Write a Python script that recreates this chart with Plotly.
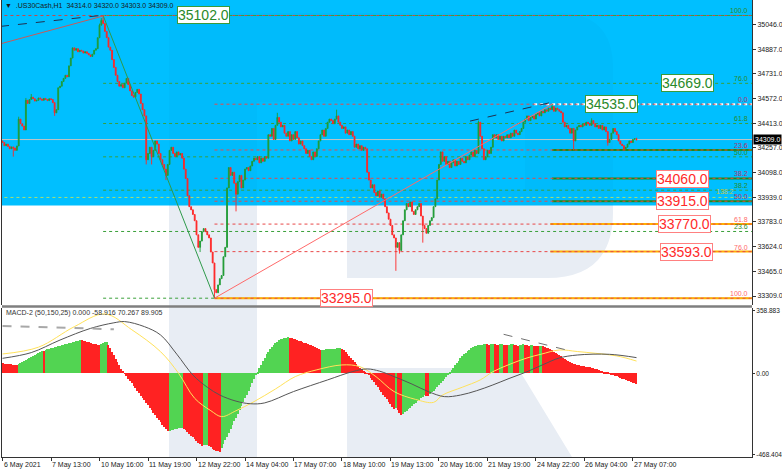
import plotly.graph_objects as go

# ---------------- data ----------------
closes = [
 34290, 34270, 34280, 34265, 34250, 34262, 34255, 34240, 34268, 34440,
 34410, 34395, 34370, 34560,
 34540, 34565, 34580, 34570, 34555, 34560, 34575, 34568, 34560, 34572, 34565, 34558, 34570, 34565, 34545,
 34480, 34500,
 34640, 34650, 34680, 34700, 34720, 34710,
 34780, 34830, 34895,
 34880, 34890, 34870, 34880, 34875, 34862, 34870, 34860, 34850,
 34840, 34855, 34880, 34890,
 34960, 35040, 35070, 35050,
 35000, 34960, 34900, 34880,
 34820, 34770, 34720, 34680,
 34650, 34660, 34640, 34670, 34700,
 34660, 34620, 34590, 34580,
 34610, 34630, 34600,
 34540, 34500, 34460,
 34180,
 34220, 34260, 34200, 34240, 34300, 34280,
 34220, 34180, 34150, 34120, 34080,
 34150, 34240, 34260,
 34220, 34200, 34230, 34210, 34220, 34190,
 34120, 34060,
 33950, 33880,
 33860, 33830, 33790,
 33700, 33620, 33660,
 33720, 33740, 33720, 33700, 33680,
 33590, 33520,
 33350, 33330,
 33380, 33420, 33440,
 33560, 33620,
 34000, 34130,
 34080, 34100, 34030, 33960, 34040, 34080,
 34000, 34050, 34120, 34130, 34110, 34140,
 34170, 34190, 34180, 34200, 34160, 34190, 34170, 34200, 34190,
 34340, 34330,
 34380, 34310, 34400, 34450,
 34420, 34390, 34400,
 34350, 34330, 34360, 34300, 34340, 34310, 34360, 34320, 34280, 34300, 34270,
 34250, 34220, 34240, 34200, 34180, 34230, 34200, 34250,
 34300, 34340, 34370, 34330, 34380,
 34420, 34440, 34430, 34410, 34440, 34460, 34420,
 34400, 34380, 34390, 34350, 34370, 34340, 34360, 34330,
 34260, 34280, 34250, 34270, 34240, 34260, 34250,
 34100, 34050,
 34000, 34020,
 33970, 33950, 33980, 33940, 33960, 33930,
 33880, 33840, 33800,
 33760, 33700, 33680, 33620, 33650,
 33600,
 33700, 33790, 33860,
 33900, 33880, 33910,
 33850, 33830, 33860, 33880, 33900,
 33820, 33760, 33740, 33710,
 33760, 33790, 33810,
 33880, 33930,
 34050, 34150,
 34230, 34170, 34200,
 34150, 34170, 34130, 34160, 34180, 34140, 34170, 34150, 34190, 34170, 34160, 34200, 34180, 34210,
 34230, 34200, 34240, 34220,
 34420,
 34330, 34250, 34180,
 34200, 34240, 34220,
 34260, 34340,
 34320, 34340, 34310, 34330, 34300, 34330, 34320, 34340, 34320,
 34350, 34330, 34370, 34350, 34340, 34360, 34380,
 34420, 34440,
 34460, 34430, 34450, 34460, 34440, 34470,
 34480, 34460, 34490, 34480, 34500, 34490, 34510,
 34500, 34520, 34490, 34510,
 34500, 34490, 34480,
 34420, 34390,
 34400, 34380, 34350, 34380, 34300, 34370, 34390,
 34400, 34390, 34410, 34400, 34420, 34410, 34400, 34430,
 34410, 34390, 34400, 34380, 34400, 34370, 34390, 34360,
 34290, 34310,
 34350, 34380, 34360, 34340,
 34300, 34280, 34270,
 34250, 34260, 34280,
 34300, 34290, 34310, 34314, 34309,
]
first_open = 34300
high_marks = {9: 34455, 13: 34575, 16: 34600, 54: 35050, 55: 35085, 56: 35102,
              153: 34480, 186: 34500, 265: 34430, 306: 34535, 328: 34445, 353: 34320}
low_marks = {6: 34200, 29: 34460, 80: 34150, 83: 34150, 91: 34050, 110: 33590,
             118: 33295, 130: 33850, 219: 33470, 221: 33580, 234: 33650,
             318: 34240, 337: 34270, 346: 34240, 353: 34303}

macd_hist = [
 57, 56, 55, 54, 53, 52, 50, 49, 48,
 52, 58, 64, 70, 76, 82, 88, 94, 100, 106, 112, 118, 124, 130, 127,
 134, 137, 140, 143, 146, 149, 152, 155, 158, 161, 164, 167, 170, 173, 176, 179, 182, 185, 188, 191,
 189, 186, 183, 180, 177, 174, 171, 168, 166, 164, 162,
 167, 172, 177, 182,
 165, 145, 125, 105, 85, 65, 45, 27, 12, -2,
 -16, -30, -44, -58, -72, -86, -100, -114, -128, -142, -156, -170, -184, -198, -212, -226, -240, -254, -268, -282, -296, -310, -322, -333,
 -330, -327, -324, -321, -318, -316, -314, -312,
 -318, -328, -338, -348, -358, -368, -378, -388, -398, -408, -416,
 -414, -412, -410,
 -418, -426, -434, -440, -445, -449, -452,
 -430, -408, -386, -364, -342, -320, -298, -276, -254, -232, -210, -188, -166, -144, -122, -100, -78, -56, -34, -12,
 10, 30, 50, 70, 90, 108, 125, 140, 153, 164, 174, 182, 189, 195, 199, 202, 204, 206,
 204, 201, 198, 195, 192, 188, 184, 180, 176, 172, 168, 164, 160, 156, 150, 144, 139, 134,
 135, 136, 137, 138, 139, 140, 141, 142, 143, 144, 145,
 140, 133, 124, 113, 100, 88, 76, 64, 53, 43, 33, 24, 15, 7, -1,
 -12, -25, -38, -52, -66, -80, -94, -108, -122, -136, -150, -164, -178, -192, -205, -200, -212, -228, -240,
 -232, -224, -215, -206, -197, -188, -179, -170, -161, -152, -143, -134, -125, -128, -131, -120, -110, -100, -90, -80, -70, -58, -46, -34, -22, -10,
 4, 18, 32, 46, 60, 73, 86, 98, 109, 119, 128, 136, 143, 149, 154, 158, 161, 163, 165, 166, 167,
 166, 164, 168, 170, 167, 165, 163, 166, 169, 165, 162, 160, 163, 166, 168, 165, 162, 159, 161, 164, 166, 163, 160, 158, 160, 162, 159, 157, 155, 157, 159, 156, 152, 148,
 143, 137, 131, 125, 118, 111, 104, 97, 90, 83, 76, 70, 64, 59, 55, 51, 48,
 46, 44, 42, 40, 38, 36, 34, 31, 28, 25, 22, 19, 16, 13, 10,
 6, 2, -2, -6, -10, -14, -18, -22, -26, -30, -34, -38, -42, -46, -50, -53, -56, -58.916,
]
yellow_bars = [0, 20, 40, 57, 72, 88, 98, 107, 116, 122, 130, 140, 152, 163, 175, 189, 199, 208, 218, 230, 240, 245, 256, 266, 273, 282, 292, 300, 310, 320, 330, 342, 353]
yellow_vals = [111, 150, 268, 341, 250, 124, 0, -144, -215, -249, -215, -163, -90, -19, 20, 48, 38, -20, -105, -150, -167, -125, -80, -38, 9, 50, 88, 110, 134, 125, 115, 100, 70.267]
grey_bars = [0, 16, 32, 49, 62, 68, 79, 88, 97, 106, 114, 121, 130, 138, 146, 162, 181, 195, 203, 210, 218, 228, 237, 246, 255, 264, 273, 282, 292, 301, 310, 320, 338, 353]
grey_vals = [86, 119, 191, 258, 290, 297, 268, 220, 110, -10, -80, -125, -160, -175, -170, -105, -38, 10, 25, 12, -19, -62, -105, -134, -125, -100, -67, -30, 9, 50, 88, 105, 109, 89.905]

time_tick_bars = [0, 27, 54, 81, 108, 135, 162, 189, 216, 243, 270, 297, 324, 351]
time_tick_text = ["6 May 2021", "7 May 13:00", "10 May 16:00", "11 May 19:00", "12 May 22:00",
                  "14 May 04:00", "17 May 07:00", "18 May 10:00", "19 May 13:00", "20 May 16:00",
                  "21 May 19:00", "24 May 22:00", "26 May 04:00", "27 May 07:00"]
price_ticks = [35046, 34887, 34731, 34572, 34413, 34257, 34098, 33939, 33783, 33624, 33465, 33309]
macd_ticks = [358.883, 0.0, -468.404]
macd_tick_text = ["358.883", "0.00", "-468.404"]

swing_high = 35102.0   # bar 56
swing_low = 33295.0    # bar 118
swing_high2 = 34535.0  # bar 306
high_bar, low_bar, high2_bar = 56, 118, 306
fib_ratios_green = [0.236, 0.382, 0.5, 0.618, 0.76, 1.0]
fib_labels_green = ["23.6", "38.2", "50.0", "61.8", "76.0", "100.0"]
fib_ratios_red = [0.0, 0.236, 0.382, 0.5, 0.618, 0.76, 1.0]
fib_labels_red = ["0.0", "23.6", "38.2", "50.0", "61.8", "76.0", "100.0"]
ext_level, ext_label = 33939.0, "138.2"
box_green = [(35102.0, "35102.0", 204), (34669.0, "34669.0", 687), (34535.0, "34535.0", 611)]
box_red = [(34060.0, "34060.0", 682), (33915.0, "33915.0", 682), (33770.0, "33770.0", 684),
           (33593.0, "33593.0", 686), (33295.0, "33295.0", 346)]
thick_green_levels = [34242.0, 34060.0, 33915.0]
thick_orange_levels = [33770.0, 33593.0]
blue_zone_low = 33888.0
last_price = 34309.0
# trend lines: (bar0, price0, bar1, price1)
price_dash_lines = [(-1.4, 35032, 57, 35105), (260.3, 34427, 308.7, 34555)]
price_red_line = (-1.4, 34920, 57, 35102)
macd_dash_grey = (0, 272, 62, 253)
macd_dash_dark = (279, 224, 314, 134)

# ---------------- build ----------------
n = len(closes)
idx = list(range(n))
opens = [first_open] + closes[:-1]
highs, lows = [], []
for i in idx:
    hi = max(opens[i], closes[i]); lo = min(opens[i], closes[i])
    if i in high_marks: hi = max(hi, high_marks[i])
    if i in low_marks: lo = min(lo, low_marks[i])
    highs.append(hi); lows.append(lo)

hist_colors = []
for i, v in enumerate(macd_hist):
    up = i > 0 and v > macd_hist[i - 1]
    hist_colors.append("#52D452" if up else "#FF2222")

X0, X1 = -0.3, -0.3 + 750 / 1.796
Y_TOP, Y_BOT = 35201.0, 33251.5
M_TOP, M_BOT = 375.1, -480.9

def PX(px): return (px - 2) / 750.0
def PY(py): return (457 - py) / 457.0

def pth(cmds):
    out = []
    for c in cmds:
        if isinstance(c, str):
            out.append(c)
        else:
            out.append(f"{PX(c[0]):.5f},{PY(c[1]):.5f}")
    return " ".join(out)

FONT = "Liberation Sans, Arial, sans-serif"
GREEN_T = "#2A8A2A"
RED_T = "#FF2A2A"

fig = go.Figure()
fig.add_trace(go.Candlestick(
    x=idx, open=opens, high=highs, low=lows, close=closes,
    increasing=dict(line=dict(color="#1F9B34", width=0.9), fillcolor="#1F9B34"),
    decreasing=dict(line=dict(color="#FF2626", width=0.9), fillcolor="#FF2626"),
    whiskerwidth=0, hoverinfo="skip", showlegend=False, xaxis="x", yaxis="y"))
fig.add_trace(go.Bar(x=idx, y=macd_hist, marker=dict(color=hist_colors, line=dict(width=0)),
                     width=0.6, xaxis="x2", yaxis="y2", showlegend=False, hoverinfo="skip"))
fig.add_trace(go.Scatter(x=yellow_bars, y=yellow_vals, mode="lines",
                         line=dict(color="#FFE25A", width=1, shape="spline", smoothing=1.0),
                         xaxis="x2", yaxis="y2", showlegend=False, hoverinfo="skip"))
fig.add_trace(go.Scatter(x=grey_bars, y=grey_vals, mode="lines",
                         line=dict(color="#555555", width=1, shape="spline", smoothing=1.0),
                         xaxis="x2", yaxis="y2", showlegend=False, hoverinfo="skip"))

shapes = []
WM = "#E8EDF4"
# watermark (R logo)
logo = pth(["M", (169, 13), "L", (558, 13), "Q", (613, 13), (613, 68), "L", (613, 212),
            "Q", (613, 278), (547, 278), "L", (347, 278), "L", (347, 190), "L", (525, 190),
            "L", (525, 102), "L", (257, 102), "L", (257, 457), "L", (169, 457), "Z"])
shapes.append(dict(type="path", xref="paper", yref="paper", path=logo, fillcolor=WM, line=dict(width=0), layer="below"))
leg = pth(["M", (347, 368), "L", (518, 368), "L", (572, 457), "L", (347, 457), "Z"])
shapes.append(dict(type="path", xref="paper", yref="paper", path=leg, fillcolor=WM, line=dict(width=0), layer="below"))
# blue zone
shapes.append(dict(type="rect", xref="paper", yref="y", x0=0, x1=1, y0=blue_zone_low, y1=Y_TOP,
                   fillcolor="#00BFFF", line=dict(width=0), layer="below"))
# faint logo on blue (slightly darker)
logo2 = pth(["M", (169, 13), "L", (558, 13), "Q", (613, 13), (613, 68), "L", (613, 205.5),
             "L", (347, 205.5), "L", (347, 190), "L", (525, 190), "L", (525, 102), "L", (257, 102),
             "L", (257, 205.5), "L", (169, 205.5), "Z"])
shapes.append(dict(type="path", xref="paper", yref="paper", path=logo2, fillcolor="rgba(0,40,90,0.025)",
                   line=dict(width=0), layer="below"))
# bid line
shapes.append(dict(type="line", xref="paper", yref="y", x0=0, x1=1, y0=last_price, y1=last_price,
                   line=dict(color="#C4C4C4", width=1), layer="below"))
# levels
shapes.append(dict(type="line", xref="x", yref="y", x0=X0 - 2, x1=X1, y0=swing_high, y1=swing_high,
                   line=dict(color="#C84848", width=1, dash="dot"), layer="below"))
shapes.append(dict(type="line", xref="x", yref="y", x0=X0 - 2, x1=X1, y0=ext_level, y1=ext_level,
                   line=dict(color="#A8E070", width=1, dash="dot"), layer="below"))
green_levels = [swing_low + r * (swing_high - swing_low) for r in fib_ratios_green]
for lv in green_levels + [swing_low]:
    shapes.append(dict(type="line", xref="x", yref="y", x0=high_bar, x1=X1, y0=lv, y1=lv,
                       line=dict(color="#3AA03A", width=1, dash="dot"), layer="below"))
red_levels = [swing_high2 - r * (swing_high2 - swing_low) for r in fib_ratios_red]
shapes.append(dict(type="line", xref="x", yref="y", x0=296, x1=X1, y0=swing_high2, y1=swing_high2,
                   line=dict(color="#FFFFFF", width=2, dash="dot"), layer="below"))
for lv in thick_green_levels:
    shapes.append(dict(type="line", xref="x", yref="y", x0=high2_bar, x1=X1, y0=lv, y1=lv,
                       line=dict(color="#1E8A1E", width=2), layer="below"))
for lv in thick_orange_levels:
    shapes.append(dict(type="line", xref="x", yref="y", x0=high2_bar - 1, x1=X1, y0=lv, y1=lv,
                       line=dict(color="#FFB000", width=2), layer="below"))
shapes.append(dict(type="line", xref="x", yref="y", x0=low_bar, x1=X1, y0=swing_low, y1=swing_low,
                   line=dict(color="#FFB000", width=2), layer="below"))
for lv in red_levels:
    shapes.append(dict(type="line", xref="x", yref="y", x0=low_bar, x1=X1, y0=lv, y1=lv,
                       line=dict(color="#E84848", width=1, dash="dot"), layer="below"))
# trend lines
shapes.append(dict(type="line", xref="x", yref="y", x0=high_bar, y0=swing_high, x1=low_bar, y1=swing_low,
                   line=dict(color="#2E9A4A", width=1)))
shapes.append(dict(type="line", xref="x", yref="y", x0=low_bar, y0=swing_low, x1=high2_bar, y1=swing_high2,
                   line=dict(color="#FF6A6A", width=1)))
b0, p0, b1, p1 = price_red_line
shapes.append(dict(type="line", xref="x", yref="y", x0=b0, y0=p0, x1=b1, y1=p1, line=dict(color="#C85A5A", width=1)))
for (b0, p0, b1, p1) in price_dash_lines:
    shapes.append(dict(type="line", xref="x", yref="y", x0=b0, y0=p0, x1=b1, y1=p1,
                       line=dict(color="#203050", width=1, dash="dash")))
b0, p0, b1, p1 = macd_dash_grey
shapes.append(dict(type="line", xref="x2", yref="y2", x0=b0, y0=p0, x1=b1, y1=p1,
                   line=dict(color="#A8A8A8", width=2, dash="dash")))
b0, p0, b1, p1 = macd_dash_dark
shapes.append(dict(type="line", xref="x2", yref="y2", x0=b0, y0=p0, x1=b1, y1=p1,
                   line=dict(color="#707070", width=1, dash="dash")))
# pane separator
shapes.append(dict(type="line", xref="paper", yref="paper", x0=0, x1=1, y0=PY(306.5), y1=PY(306.5),
                   line=dict(color="#7F7F7F", width=2.5)))

ann = []
ann.append(dict(xref="paper", yref="paper", x=PX(3), y=PY(5.5), xanchor="left", yanchor="middle",
                text="▼  .US30Cash,H1  34314.0 34320.0 34303.0 34309.0", showarrow=False,
                font=dict(family=FONT, size=7, color="#1A1A1A")))
ann.append(dict(xref="paper", yref="paper", x=PX(4), y=PY(313), xanchor="left", yanchor="middle",
                text="MACD-2 (50,150,25) 0.000 -58.916 70.267 89.905", showarrow=False,
                font=dict(family=FONT, size=7, color="#333333")))
for b, t in zip(time_tick_bars, time_tick_text):
    ann.append(dict(xref="x2", yref="paper", x=b, y=PY(464.5), xanchor="left", yanchor="middle",
                    xshift=-1, text=t, showarrow=False, font=dict(family=FONT, size=7, color="#202020")))
for lv, t in zip(green_levels, fib_labels_green):
    ann.append(dict(xref="paper", yref="y", x=PX(750), y=lv, xanchor="right", yanchor="bottom",
                    yshift=-1, text=t, showarrow=False, font=dict(family=FONT, size=7, color="#2A8A2A")))
for lv, t in zip(red_levels, fib_labels_red):
    col = "#B03070" if lv > blue_zone_low else "#FF6A6A"
    ann.append(dict(xref="paper", yref="y", x=PX(750), y=lv, xanchor="right", yanchor="bottom",
                    yshift=-1, text=t, showarrow=False, font=dict(family=FONT, size=7, color=col)))
ann.append(dict(xref="paper", yref="y", x=PX(736), y=ext_level, xanchor="right", yanchor="bottom",
                yshift=0, text=ext_label, showarrow=False, font=dict(family=FONT, size=7, color="#C0C848")))
for lv, t, px in box_green:
    ann.append(dict(xref="paper", yref="y", x=PX(px), y=lv, xanchor="center", yanchor="middle", text=t,
                    showarrow=False, bgcolor="#FFFFFF", bordercolor="#3A9A3A", borderwidth=1, borderpad=0,
                    font=dict(family=FONT, size=14, color=GREEN_T)))
for lv, t, px in box_red:
    ann.append(dict(xref="paper", yref="y", x=PX(px), y=lv, xanchor="center", yanchor="middle", text=t,
                    showarrow=False, bgcolor="#FFFFFF", bordercolor="#FF8080", borderwidth=1, borderpad=0,
                    font=dict(family=FONT, size=14, color=RED_T)))
ann.append(dict(xref="paper", yref="y", x=1, y=last_price, xanchor="left", yanchor="middle", xshift=1,
                text="34309.0", showarrow=False, bgcolor="#000000", borderpad=1,
                font=dict(family=FONT, size=7, color="#FFFFFF")))

axis_common = dict(showgrid=False, zeroline=False)
fig.update_layout(
    width=782, height=471, margin=dict(l=2, r=30, t=0, b=14, pad=0, autoexpand=False),
    paper_bgcolor="#FFFFFF", plot_bgcolor="#FFFFFF", showlegend=False, bargap=0,
    xaxis=dict(domain=[0, 1], range=[X0, X1], anchor="y", showticklabels=False, ticks="",
               showline=False, rangeslider=dict(visible=False), **axis_common),
    yaxis=dict(domain=[PY(305), 1], range=[Y_BOT, Y_TOP], anchor="x", side="right",
               tickvals=price_ticks, ticktext=[f"{v:.1f}" for v in price_ticks],
               ticks="outside", ticklen=3, tickcolor="#333333",
               tickfont=dict(family=FONT, size=7, color="#202020"),
               showline=True, linecolor="#333333", linewidth=1, mirror=True, **axis_common),
    xaxis2=dict(domain=[0, 1], range=[X0, X1], anchor="y2", showticklabels=False,
                tickvals=time_tick_bars, ticks="outside", ticklen=3, tickcolor="#333333",
                showline=True, linecolor="#333333", linewidth=1, **axis_common),
    yaxis2=dict(domain=[0, PY(308)], range=[M_BOT, M_TOP], anchor="x2", side="right",
                tickvals=macd_ticks, ticktext=macd_tick_text, ticks="outside", ticklen=2,
                tickcolor="#333333", tickfont=dict(family=FONT, size=6.5, color="#202020"),
                showline=True, linecolor="#333333", linewidth=1, mirror=True, **axis_common),
    shapes=shapes, annotations=ann,
)
fig.write_html("out.html", config={"displayModeBar": False},
               post_script="document.body.style.margin='0';document.body.style.padding='0';"
                           "document.documentElement.style.overflow='hidden';")
